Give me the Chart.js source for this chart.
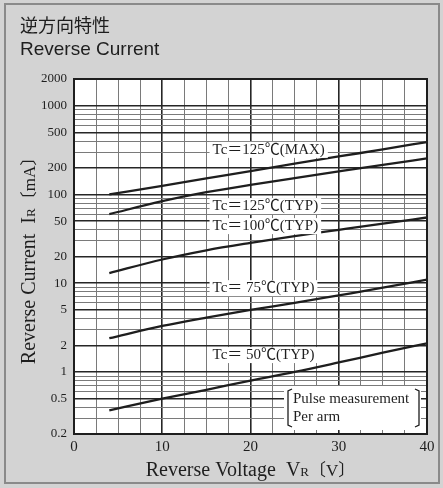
<!DOCTYPE html>
<html>
<head>
<meta charset="utf-8">
<script src="https://cdn.jsdelivr.net/npm/chart.js@4.4.1/dist/chart.umd.min.js"></script>
<style>
  html, body { margin: 0; padding: 0; background: #d3d3d3; }
  #wrap { width: 443px; height: 488px; }
</style>
</head>
<body>
<div id="wrap"><canvas id="chart" width="443" height="488"></canvas></div>
<script>
// reverse voltage (V) where the curves are sampled
const voltages = [4, 10, 15, 20, 25, 30, 35, 40];
// reverse current (mA) per case temperature
const tc125Max = [100, 125, 152, 183, 222, 268, 322, 390];
const tc125Typ = [60, 84, 106, 128, 153, 182, 216, 255];
const tc100Typ = [13, 18.5, 23.5, 28.5, 34, 40, 47, 55];
const tc75Typ = [2.4, 3.3, 4.1, 5.0, 6.0, 7.3, 8.9, 11];
const tc50Typ = [0.37, 0.5, 0.63, 0.8, 1.0, 1.28, 1.65, 2.1];
const seriesNames = ["Tc＝125℃(MAX)", "Tc＝125℃(TYP)", "Tc＝100℃(TYP)", "Tc＝ 75℃(TYP)", "Tc＝ 50℃(TYP)"];
// where each curve label sits (V, mA)
const labelV = [15.7, 15.7, 15.7, 15.7, 15.7];
const labelI = [318, 74, 44, 8.8, 1.55];
const xTickLabels = [0, 10, 20, 30, 40];
const yTickLabels = [0.2, 0.5, 1, 2, 5, 10, 20, 50, 100, 200, 500, 1000, 2000];
const noteLines = ["Pulse measurement", "Per arm"];

const SERIF = '"Liberation Serif", "Noto Sans CJK JP", serif';
const INK = "#1e1e1e";

function toPoints(ys) {
  return voltages.map((v, i) => ({ x: v, y: ys[i] }));
}

function mantissa(v) {
  return Math.round(v / Math.pow(10, Math.floor(Math.log10(v) + 1e-9)));
}

// draws text made of runs (for the small subscript R)
function drawRuns(ctx, runs, cx, baseline) {
  let total = 0;
  runs.forEach((r) => {
    ctx.font = r.font;
    r.w = ctx.measureText(r.text).width;
    total += r.w;
  });
  let x = cx - total / 2;
  runs.forEach((r) => {
    ctx.font = r.font;
    ctx.fillText(r.text, x, baseline + (r.dy || 0));
    x += r.w;
  });
}

const decor = {
  id: "decor",
  beforeDraw(chart) {
    const { ctx, chartArea: a } = chart;
    ctx.save();
    ctx.fillStyle = "#d3d3d3";
    ctx.fillRect(0, 0, chart.width, chart.height);
    ctx.strokeStyle = "#8a8a8a";
    ctx.lineWidth = 2;
    ctx.strokeRect(5, 4, 434, 479);
    ctx.fillStyle = "#ffffff";
    ctx.fillRect(a.left, a.top, a.right - a.left, a.bottom - a.top);
    ctx.restore();
  },
  afterDatasetsDraw(chart) {
    const { ctx, chartArea: a } = chart;
    const xs = chart.scales.x;
    const ys = chart.scales.y;
    ctx.save();
    ctx.strokeStyle = INK;
    ctx.lineWidth = 2;
    ctx.strokeRect(a.left, a.top, a.right - a.left, a.bottom - a.top);

    // curve labels with white boxes
    ctx.font = "15px " + SERIF;
    ctx.textBaseline = "middle";
    seriesNames.forEach((name, i) => {
      const px = xs.getPixelForValue(labelV[i]);
      const py = ys.getPixelForValue(labelI[i]);
      const w = ctx.measureText(name).width;
      ctx.fillStyle = "#ffffff";
      ctx.fillRect(px - 3, py - 8, w + 6, 16);
      ctx.fillStyle = INK;
      ctx.fillText(name, px, py);
    });

    // measurement note in brackets
    const bx = a.right - 139;
    const by = a.bottom - 47;
    ctx.fillStyle = "#ffffff";
    ctx.fillRect(bx - 4, by - 1, 137, 44);
    ctx.strokeStyle = INK;
    ctx.lineWidth = 1.3;
    ctx.beginPath();
    ctx.moveTo(bx + 4, by + 2);
    ctx.lineTo(bx, by + 4);
    ctx.lineTo(bx, by + 38);
    ctx.lineTo(bx + 4, by + 40);
    ctx.moveTo(bx + 127, by + 2);
    ctx.lineTo(bx + 131, by + 4);
    ctx.lineTo(bx + 131, by + 38);
    ctx.lineTo(bx + 127, by + 40);
    ctx.stroke();
    ctx.fillStyle = INK;
    ctx.textBaseline = "alphabetic";
    ctx.font = "15px " + SERIF;
    ctx.fillText(noteLines[0], bx + 5, by + 16);
    ctx.fillText(noteLines[1], bx + 5, by + 34);
    ctx.restore();
  },
  afterDraw(chart) {
    const { ctx, chartArea: a } = chart;
    ctx.save();
    ctx.fillStyle = INK;
    ctx.textBaseline = "alphabetic";
    ctx.font = '18px "Noto Sans CJK JP"';
    ctx.fillText("逆方向特性", 20, 32);
    ctx.font = '19px "Liberation Sans", Arial, sans-serif';
    ctx.fillText("Reverse Current", 20, 55);

    ctx.textAlign = "left";
    drawRuns(ctx, [
      { text: "Reverse Voltage  V", font: "20px " + SERIF },
      { text: "R", font: "13px " + SERIF },
      { text: "〔V〕", font: "17px " + SERIF },
    ], (a.left + a.right) / 2, 476);

    ctx.translate(35, (a.top + a.bottom) / 2);
    ctx.rotate(-Math.PI / 2);
    drawRuns(ctx, [
      { text: "Reverse Current  I", font: "20px " + SERIF },
      { text: "R", font: "13px " + SERIF },
      { text: "〔mA〕", font: "17px " + SERIF },
    ], 0, 0);
    ctx.restore();
  },
};

const lineStyle = {
  borderColor: INK,
  borderWidth: 2.3,
  pointRadius: 0,
  fill: false,
  cubicInterpolationMode: "monotone",
};

new Chart(document.getElementById("chart").getContext("2d"), {
  type: "line",
  plugins: [decor],
  data: {
    datasets: [tc125Max, tc125Typ, tc100Typ, tc75Typ, tc50Typ].map((ys, i) => ({
      label: seriesNames[i],
      data: toPoints(ys),
      ...lineStyle,
    })),
  },
  options: {
    responsive: false,
    animation: false,
    devicePixelRatio: 1,
    layout: { padding: { left: 0, right: 16, top: 79, bottom: 0 } },
    plugins: {
      legend: { display: false },
      tooltip: { enabled: false },
    },
    scales: {
      x: {
        type: "linear",
        min: 0,
        max: 40,
        afterFit: (s) => { s.height = 54; },
        border: { display: false },
        grid: {
          drawTicks: false,
          color: (c) => (xTickLabels.includes(c.tick.value) ? "#262626" : "#7a7a7a"),
          lineWidth: (c) => (xTickLabels.includes(c.tick.value) ? 1.6 : 1),
        },
        ticks: {
          stepSize: 2.5,
          autoSkip: false,
          maxRotation: 0,
          padding: 4,
          color: INK,
          font: { family: SERIF, size: 15 },
          callback: (v) => (xTickLabels.includes(v) ? String(v) : ""),
        },
      },
      y: {
        type: "logarithmic",
        min: 0.2,
        max: 2000,
        afterFit: (s) => { s.width = 74; },
        afterBuildTicks: (s) => {
          const t = [];
          for (let d = -1; d <= 3; d++) {
            for (let m = 1; m <= 9; m++) {
              const v = parseFloat((m * Math.pow(10, d)).toPrecision(3));
              if (v >= 0.2 && v <= 2000) t.push({ value: v });
            }
          }
          s.ticks = t;
        },
        border: { display: false },
        grid: {
          drawTicks: false,
          color: (c) => ([1, 2, 5].includes(mantissa(c.tick.value)) ? "#262626" : "#7a7a7a"),
          lineWidth: (c) => ([1, 2, 5].includes(mantissa(c.tick.value)) ? 1.5 : 1),
        },
        ticks: {
          autoSkip: false,
          padding: 7,
          color: INK,
          font: { family: SERIF, size: 13 },
          callback: (v) => (yTickLabels.includes(v) ? String(v) : ""),
        },
      },
    },
  },
});
</script>
</body>
</html>
